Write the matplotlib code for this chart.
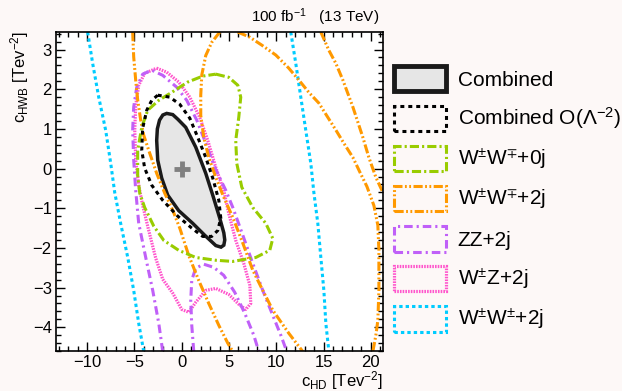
import numpy as np
import matplotlib
matplotlib.use("Agg")
import matplotlib.pyplot as plt
from matplotlib.patches import Patch

plt.rcParams['font.family'] = ['Liberation Sans', 'DejaVu Sans']
plt.rcParams['mathtext.fontset'] = 'custom'
plt.rcParams['mathtext.rm'] = 'Liberation Sans'
plt.rcParams['mathtext.it'] = 'Liberation Sans:italic'
plt.rcParams['mathtext.default'] = 'regular'

# contour lines (c_HD, c_HWB)
comb_x = [-1.59, -0.95, -0.40, 0.42, 1.48, 2.54, 3.28, 4.02, 4.45, 4.55, 4.45, 4.15, 3.60, 2.43, 1.16, -0.32, -1.48, -2.12, -2.54, -2.65, -2.58, -2.35, -2.00]
comb_y = [1.39, 1.36, 1.24, 1.04, 0.54, -0.12, -0.67, -1.25, -1.62, -1.80, -1.93, -1.98, -1.94, -1.68, -1.38, -1.06, -0.67, -0.24, 0.21, 0.71, 1.00, 1.22, 1.35]

lin_x = [-2.54, -1.27, -0.21, 0.85, 1.69, 2.54, 3.28, 3.92, 4.13, 3.81, 3.17, 2.22, 1.06, -0.42, -2.01, -3.17, -3.92, -4.23, -4.13, -3.70, -3.17]
lin_y = [1.85, 1.80, 1.62, 1.27, 0.79, 0.28, -0.24, -0.80, -1.25, -1.56, -1.71, -1.71, -1.50, -1.20, -0.80, -0.42, 0.01, 0.46, 1.02, 1.47, 1.72]

ww0_x = [3.60, 4.97, 5.93, 6.24, 6.03, 5.71, 5.82, 6.35, 7.51, 8.89, 9.63, 9.31, 7.83, 5.40, 3.60, 1.48, -0.32, -1.90, -2.96, -3.92, -4.44, -4.66, -4.66, -4.23, -3.60, -2.43, -1.06, 0.63, 2.22]
ww0_y = [2.38, 2.30, 2.10, 1.80, 1.29, 0.71, 0.13, -0.47, -0.98, -1.38, -1.76, -2.06, -2.24, -2.34, -2.31, -2.24, -2.06, -1.81, -1.45, -0.98, -0.62, -0.17, 0.46, 1.04, 1.47, 1.72, 1.92, 2.18, 2.33]

# W+W- +2j has four open branches
ww2a_x = [-5.19, -5.08, -4.87, -4.66, -4.34, -4.02, -3.49, -2.65, -1.80, -0.95, -0.21, 0.74, 1.80, 2.86, 3.92, 4.87, 5.40]
ww2a_y = [3.44, 2.81, 2.23, 1.73, 1.22, 0.84, 0.46, -0.12, -0.62, -1.05, -1.50, -2.19, -2.82, -3.40, -3.95, -4.40, -4.61]
ww2b_x = [4.02, 3.17, 2.54, 2.12, 2.01, 2.01, 2.33, 2.86, 3.60, 4.44, 5.40, 6.46, 7.51, 8.57, 9.63, 11.32, 12.80]
ww2b_y = [3.44, 3.18, 2.85, 2.36, 1.85, 1.34, 0.79, 0.28, -0.22, -0.72, -1.23, -1.88, -2.56, -3.07, -3.57, -4.15, -4.61]
ww2c_x = [5.93, 7.20, 8.47, 9.95, 11.32, 12.49, 13.44, 14.50, 15.45, 16.30, 17.14, 18.10, 18.84, 19.58, 20.32, 20.74, 20.85, 20.85, 20.74, 20.53, 20.21]
ww2c_y = [3.44, 3.31, 3.11, 2.86, 2.53, 2.20, 1.92, 1.65, 1.29, 0.97, 0.64, 0.28, -0.09, -0.45, -0.93, -1.43, -2.06, -3.07, -3.82, -4.20, -4.61]
ww2d_x = [14.71, 15.56, 16.30, 17.04, 18.10, 19.15, 19.79, 20.53, 21.27]
ww2d_y = [3.44, 2.98, 2.65, 2.23, 1.55, 0.79, 0.28, -0.22, -0.60]

zz_x = [-2.01, -2.43, -3.07, -3.81, -4.55, -4.87, -5.08, -5.19, -5.08, -4.76, -4.13, -3.17, -2.01, -0.53, 0.53, 1.59, 2.54, 3.49, 4.66, 5.40, 6.46, 7.51, 8.57, 9.63, 10.48, 11.11]
zz_y = [-4.61, -3.90, -3.07, -2.24, -1.38, -0.55, 0.21, 0.97, 1.55, 2.05, 2.38, 2.48, 2.35, 2.05, 1.72, 1.22, 0.64, 0.03, -0.55, -0.98, -1.68, -2.39, -3.07, -3.70, -4.20, -4.61]
zz_in_x = [1.27, 1.06, 0.95, 1.06, 1.48, 2.33, 3.39, 4.44, 5.61, 6.67, 7.62, 8.15]
zz_in_y = [-4.61, -3.95, -3.32, -2.81, -2.51, -2.41, -2.49, -2.69, -3.12, -3.65, -4.20, -4.61]

wz_x = [-2.65, -1.59, -0.32, 0.85, 1.90, 2.75, 3.60, 4.44, 4.97, 5.71, 6.56, 7.20, 7.30, 6.77, 6.03, 4.97, 3.60, 2.54, 1.48, 0.74, 0.00, -0.95, -2.01, -2.75, -3.49, -4.13, -4.55, -4.87, -4.97, -4.87, -4.55, -3.92]
wz_y = [2.53, 2.43, 2.18, 1.80, 1.29, 0.71, 0.03, -0.55, -1.13, -1.81, -2.39, -2.94, -3.40, -3.55, -3.42, -3.17, -3.02, -3.07, -3.37, -3.62, -3.55, -3.14, -2.79, -2.26, -1.56, -0.93, -0.42, 0.21, 0.97, 1.59, 2.10, 2.40]

ss1_x = [-9.95, -9.42, -8.78, -8.04, -7.51, -7.09, -6.46, -5.71, -5.08, -4.55, -4.02]
ss1_y = [3.44, 2.65, 1.80, 0.96, 0.13, -0.60, -1.38, -2.24, -3.07, -3.90, -4.61]
ss2_x = [11.53, 12.06, 12.59, 13.12, 13.65, 13.97, 14.39, 14.71, 15.03, 15.24, 15.56]
ss2_y = [3.44, 2.65, 1.80, 0.96, 0.13, -0.60, -1.38, -2.24, -3.07, -3.90, -4.61]

best_x = [0.0]
best_y = [0.0]

labels = ['Combined', 'Combined O($\\Lambda^{-2}$)', 'W$^{\\pm}$W$^{\\mp}$+0j', 'W$^{\\pm}$W$^{\\mp}$+2j',
          'ZZ+2j', 'W$^{\\pm}$Z+2j', 'W$^{\\pm}$W$^{\\pm}$+2j']

def closed(a):
    return list(a) + [a[0]]

green = '#99cc00'
orange = '#ff9900'
purple = '#c060f8'
pink = '#ff55cc'
cyan = '#00ccff'
lw = 2.2

sty_lin = (0, (1.3, 1.3))
sty_green = (0, (3, 1, 0.7, 1))
sty_orange = (0, (3, 0.8, 0.6, 0.8, 0.6, 0.8))
sty_purple = (0, (2.8, 1.3, 0.7, 1.3))
sty_pink = (0, (0.5, 0.35))
sty_cyan = (0, (1.1, 1.0))

fig = plt.figure(figsize=(6.22, 3.91), dpi=100)
fig.patch.set_facecolor('#fdf8f7')
ax = fig.add_axes([0.090, 0.102, 0.526, 0.816])

ax.plot(ss1_x, ss1_y, color=cyan, lw=lw, ls=sty_cyan)
ax.plot(ss2_x, ss2_y, color=cyan, lw=lw, ls=sty_cyan)
ax.plot(closed(wz_x), closed(wz_y), color=pink, lw=2.3, ls=sty_pink)
ax.plot(zz_x, zz_y, color=purple, lw=lw, ls=sty_purple)
ax.plot(zz_in_x, zz_in_y, color=purple, lw=lw, ls=sty_purple)
for bx, by in [(ww2a_x, ww2a_y), (ww2b_x, ww2b_y), (ww2c_x, ww2c_y), (ww2d_x, ww2d_y)]:
    ax.plot(bx, by, color=orange, lw=lw, ls=sty_orange)
ax.plot(closed(ww0_x), closed(ww0_y), color=green, lw=lw, ls=sty_green)
ax.fill(comb_x, comb_y, facecolor='#e6e6e6', edgecolor='#1a1a1a', lw=2.5)
ax.plot(closed(lin_x), closed(lin_y), color='black', lw=lw, ls=sty_lin)
ax.plot(best_x, best_y, marker='+', color='#808080', ms=11, mew=3.5, ls='none')

ax.set_xlim(-13.3, 21.3)
ax.set_ylim(-4.6, 3.44)
ax.set_xticks([-10, -5, 0, 5, 10, 15, 20])
ax.set_xticks(np.arange(-13, 22, 1), minor=True)
ax.set_yticks([-4, -3, -2, -1, 0, 1, 2, 3])
ax.set_yticks(np.arange(-4.6, 3.45, 0.2), minor=True)
ax.tick_params(which='both', direction='in', top=True, right=True, labelsize=12)
ax.tick_params(which='major', length=6.5, width=1, pad=3)
ax.tick_params(which='minor', length=3.5, width=1)
for s in ax.spines.values():
    s.set_linewidth(1.2)

# axis titles placed like ROOT does (at the ends of the axes)
fig.text(383 / 622, 1 - 381 / 391, 'c$_{HD}$ [Tev$^{-2}$]', ha='right', va='center', fontsize=12)
fig.text(20 / 622, 1 - 31 / 391, 'c$_{HWB}$ [Tev$^{-2}$]', ha='center', va='top', rotation=90, fontsize=12)

fig.text(379 / 622, 1 - 17 / 391, '100 fb$^{-1}$   (13 TeV)', ha='right', va='center', fontsize=11)

handles = [
    Patch(facecolor='#e6e6e6', edgecolor='#1a1a1a', lw=3.5),
    Patch(facecolor='none', edgecolor='black', lw=lw, ls=sty_lin),
    Patch(facecolor='none', edgecolor=green, lw=lw, ls=sty_green),
    Patch(facecolor='none', edgecolor=orange, lw=lw, ls=sty_orange),
    Patch(facecolor='none', edgecolor=purple, lw=lw, ls=sty_purple),
    Patch(facecolor='none', edgecolor=pink, lw=2.3, ls=sty_pink),
    Patch(facecolor='none', edgecolor=cyan, lw=lw, ls=sty_cyan),
]
fig.legend(handles, labels, loc='upper left', bbox_to_anchor=(394 / 622, 1 - 66 / 391),
           frameon=False, fontsize=15, handlelength=2.5, handleheight=1.5,
           handletextpad=0.55, labelspacing=0.68, borderpad=0, borderaxespad=0)

fig.savefig('out.png', dpi=100, facecolor=fig.get_facecolor())
